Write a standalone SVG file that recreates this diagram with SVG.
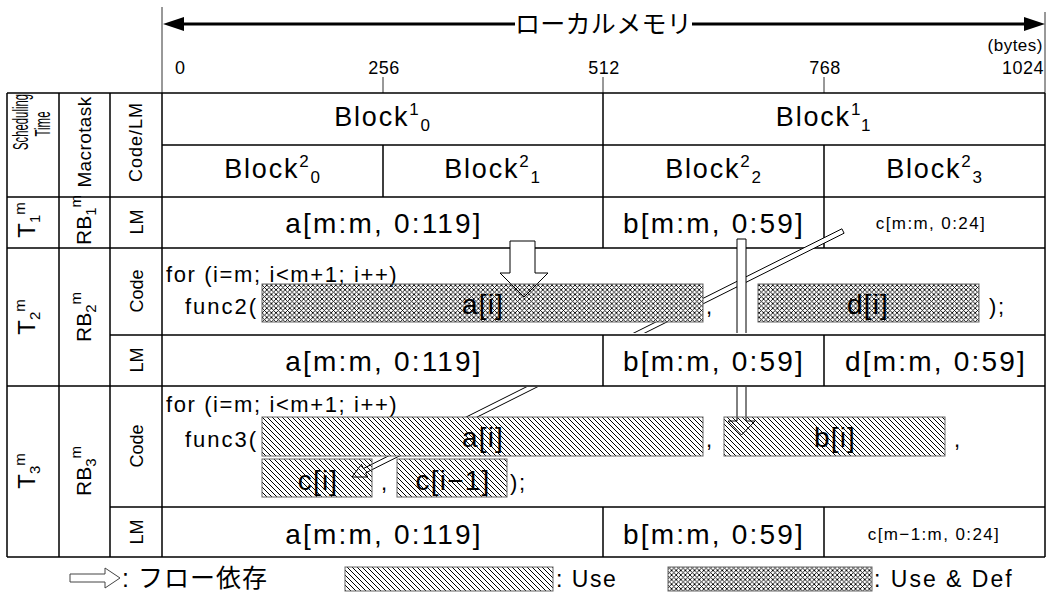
<svg xmlns="http://www.w3.org/2000/svg" width="1050" height="596" viewBox="0 0 1050 596">
<defs>
<pattern id="use" patternUnits="userSpaceOnUse" width="5" height="5"><path d="M0,0L5,5M-1,4L1,6M4,-1L6,1" stroke="#000" stroke-width="1"/></pattern>
<pattern id="usedef" patternUnits="userSpaceOnUse" width="4.6" height="4.6"><path d="M0,0L4.6,4.6M4.6,0L0,4.6" stroke="#000" stroke-width="0.9"/></pattern>
<mask id="hide" maskUnits="userSpaceOnUse" x="0" y="0" width="1050" height="596">
<rect width="1050" height="596" fill="#fff"/>
<rect x="110" y="333" width="935" height="54" fill="#000"/>
<rect x="262" y="284" width="441" height="38" fill="#000"/>
<rect x="262" y="417" width="441" height="39" fill="#000"/>
</mask>
</defs>
<style>
text{font-family:"Liberation Sans","Noto Sans CJK JP",sans-serif;fill:#000}
.ln{stroke:#000;stroke-width:1.5;fill:none}
.tk{stroke:#333;stroke-width:1;fill:none}
.blk{font-size:27px;letter-spacing:1.8px}
.sp{font-size:17px}
.lm{font-size:28px;letter-spacing:2.2px}
.sm{font-size:17px;letter-spacing:1.4px}
.code{font-size:22px;letter-spacing:1.6px}
.fn{font-size:22px;letter-spacing:2px}
.arr{font-size:28px;letter-spacing:1.2px}
.ax{font-size:18px;letter-spacing:0.5px}
.hu{fill:url(#use);stroke:#666;stroke-width:1}
.hd{fill:url(#usedef);stroke:#666;stroke-width:1}
.flow{fill:#fff;stroke:#000;stroke-width:1}
.rl{font-size:24px}
.rb{font-size:21px}
.cl{font-size:18px}
.ss{font-size:15px}
</style>
<rect width="1050" height="596" fill="#fff"/>

<g id="axis">
<line class="tk" x1="162" y1="7" x2="162" y2="93"/>
<line class="tk" x1="1045" y1="12" x2="1045" y2="93"/>
<line x1="180" y1="24" x2="515" y2="24" stroke="#000" stroke-width="3"/>
<line x1="692" y1="24" x2="1028" y2="24" stroke="#000" stroke-width="3"/>
<polygon points="163,24 184,17 184,31" fill="#000"/>
<polygon points="1045,24 1024,17 1024,31" fill="#000"/>
<text x="603.5" y="33" text-anchor="middle" font-size="25" letter-spacing="0.3">ローカルメモリ</text>
<text x="1043" y="51" text-anchor="end" font-size="17" letter-spacing="0.5">(bytes)</text>
<text class="ax" x="175" y="74">0</text>
<text class="ax" x="384" y="74" text-anchor="middle">256</text>
<text class="ax" x="604" y="74" text-anchor="middle">512</text>
<text class="ax" x="825" y="74" text-anchor="middle">768</text>
<text class="ax" x="1044" y="74" text-anchor="end">1024</text>
<line class="tk" x1="383" y1="77" x2="383" y2="93"/>
<line class="tk" x1="603" y1="77" x2="603" y2="93"/>
<line class="tk" x1="824" y1="77" x2="824" y2="93"/>
</g>

<g id="table">
<path class="ln" d="M7,93H1045M162,145H1045M7,197H1045M7,248H1045M110,335H1045M7,386H1045M110,507H1045M7,557H1045"/>
<path class="ln" d="M7,93V557M59,93V557M110,93V557M162,93V557M1045,93V557"/>
<path class="ln" d="M603,93V248M383,145V197M824,145V248M603,335V386M824,335V386M603,507V557M824,507V557"/>
</g>

<g id="header-left">
<text transform="translate(28,122) rotate(-90)" text-anchor="middle" font-size="22" textLength="56" lengthAdjust="spacingAndGlyphs">Scheduling</text>
<text transform="translate(50,124) rotate(-90)" text-anchor="middle" font-size="22" textLength="25" lengthAdjust="spacingAndGlyphs">Time</text>
<text transform="translate(91,142) rotate(-90)" text-anchor="middle" font-size="19" letter-spacing="0.4">Macrotask</text>
<text transform="translate(142,142) rotate(-90)" text-anchor="middle" font-size="18" letter-spacing="1">Code/LM</text>
</g>

<g id="header-blocks">
<text class="blk" x="383" y="126" text-anchor="middle">Block<tspan class="sp" dy="-11">1</tspan><tspan class="sp" dy="16">0</tspan></text>
<text class="blk" x="824" y="126" text-anchor="middle">Block<tspan class="sp" dy="-11">1</tspan><tspan class="sp" dy="16">1</tspan></text>
<text class="blk" x="273" y="178" text-anchor="middle">Block<tspan class="sp" dy="-11">2</tspan><tspan class="sp" dy="16">0</tspan></text>
<text class="blk" x="493" y="178" text-anchor="middle">Block<tspan class="sp" dy="-11">2</tspan><tspan class="sp" dy="16">1</tspan></text>
<text class="blk" x="714" y="178" text-anchor="middle">Block<tspan class="sp" dy="-11">2</tspan><tspan class="sp" dy="16">2</tspan></text>
<text class="blk" x="935" y="178" text-anchor="middle">Block<tspan class="sp" dy="-11">2</tspan><tspan class="sp" dy="16">3</tspan></text>
</g>

<g id="row-t1">
<text class="rl" transform="translate(35,220) rotate(-90)" text-anchor="middle">T<tspan class="ss" dy="5">1</tspan><tspan class="ss" dy="-15">m</tspan></text>
<text class="rb" transform="translate(91,220) rotate(-90)" text-anchor="middle">RB<tspan class="ss" dy="5">1</tspan><tspan class="ss" dy="-15">m</tspan></text>
<text class="cl" transform="translate(143,222) rotate(-90)" text-anchor="middle">LM</text>
<text class="lm" x="384" y="233" text-anchor="middle">a[m:m, 0:119]</text>
<text class="lm" x="714" y="233" text-anchor="middle">b[m:m, 0:59]</text>
<text class="sm" x="931" y="229" text-anchor="middle">c[m:m, 0:24]</text>
</g>

<g id="connectors">
<polygon class="flow" mask="url(#hide)" points="841.9,228.8 363.4,468.5 361.4,464.4 352,477 367.6,477 365.6,472.9 844.1,233.2"/>
<polygon class="flow" mask="url(#hide)" points="737,239 746,239 746,421 755,421 741.5,435 728,421 737,421"/>
<polygon class="flow" points="510,241 535,241 535,273 548,273 524,297 500,273 510,273"/>
</g>

<g id="row-t2">
<text class="rl" transform="translate(35,317) rotate(-90)" text-anchor="middle">T<tspan class="ss" dy="5">2</tspan><tspan class="ss" dy="-15">m</tspan></text>
<text class="rb" transform="translate(91,317) rotate(-90)" text-anchor="middle">RB<tspan class="ss" dy="5">2</tspan><tspan class="ss" dy="-15">m</tspan></text>
<text class="cl" transform="translate(143,291) rotate(-90)" text-anchor="middle">Code</text>
<text class="cl" transform="translate(143,360) rotate(-90)" text-anchor="middle">LM</text>
<text class="code" x="166" y="282">for (i=m; i&lt;m+1; i++)</text>
<text class="fn" x="185" y="314">func2(</text>
<rect class="hd" x="262" y="284" width="441" height="38"/>
<text class="arr" x="483" y="314" text-anchor="middle">a[i]</text>
<text class="code" x="706" y="314">,</text>
<rect class="hd" x="758" y="284" width="221" height="38"/>
<text class="arr" x="868" y="314" text-anchor="middle">d[i]</text>
<text class="code" x="989" y="314">);</text>
<text class="lm" x="384" y="371" text-anchor="middle">a[m:m, 0:119]</text>
<text class="lm" x="714" y="371" text-anchor="middle">b[m:m, 0:59]</text>
<text class="lm" x="936" y="371" text-anchor="middle">d[m:m, 0:59]</text>
</g>

<g id="row-t3">
<text class="rl" transform="translate(35,471) rotate(-90)" text-anchor="middle">T<tspan class="ss" dy="5">3</tspan><tspan class="ss" dy="-15">m</tspan></text>
<text class="rb" transform="translate(91,471) rotate(-90)" text-anchor="middle">RB<tspan class="ss" dy="5">3</tspan><tspan class="ss" dy="-15">m</tspan></text>
<text class="cl" transform="translate(143,446) rotate(-90)" text-anchor="middle">Code</text>
<text class="cl" transform="translate(143,532) rotate(-90)" text-anchor="middle">LM</text>
<text class="code" x="166" y="412">for (i=m; i&lt;m+1; i++)</text>
<text class="fn" x="185" y="447">func3(</text>
<rect class="hu" x="262" y="417" width="441" height="39"/>
<text class="arr" x="483" y="447" text-anchor="middle">a[i]</text>
<text class="code" x="706" y="447">,</text>
<rect class="hu" x="724" y="417" width="221" height="39"/>
<text class="arr" x="835" y="447" text-anchor="middle">b[i]</text>
<text class="code" x="954" y="447">,</text>
<rect class="hu" x="262" y="459" width="110" height="38"/>
<text class="arr" x="318" y="490" text-anchor="middle" letter-spacing="2">c[i]</text>
<text class="code" x="381" y="490">,</text>
<rect class="hu" x="397" y="459" width="110" height="38"/>
<text class="arr" x="453" y="490" text-anchor="middle" letter-spacing="2">c[i−1]</text>
<text class="code" x="510" y="490">);</text>
<text class="lm" x="384" y="544" text-anchor="middle">a[m:m, 0:119]</text>
<text class="lm" x="714" y="544" text-anchor="middle">b[m:m, 0:59]</text>
<text class="sm" x="934" y="540" text-anchor="middle">c[m−1:m, 0:24]</text>
</g>

<g id="legend">
<polygon points="70,574 105,574 105,568 120,578 105,588 105,582 70,582" fill="#fff" stroke="#444" stroke-width="1"/>
<text x="122" y="587" font-size="25" letter-spacing="1">: フロー依存</text>
<rect class="hu" x="345" y="567" width="208" height="24"/>
<text x="556" y="587" font-size="23" letter-spacing="1.5">: Use</text>
<rect class="hd" x="668" y="567" width="204" height="24"/>
<text x="874" y="587" font-size="23" letter-spacing="2">: Use &amp; Def</text>
</g>
</svg>
